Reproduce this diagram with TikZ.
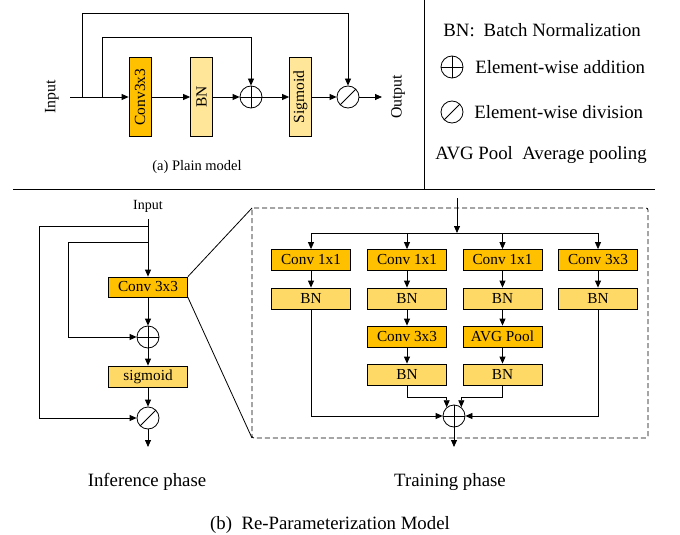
\documentclass[tikz,border=0pt]{standalone}
\usepackage{fontspec}
\setmainfont{Liberation Serif}
\usetikzlibrary{arrows.meta,calc}
\definecolor{dark}{HTML}{FFC000}
\definecolor{lite}{HTML}{FFD966}
\definecolor{pale}{HTML}{FFE699}
\begin{document}
\begin{tikzpicture}[x=1pt,y=-1pt,line width=0.8pt,
 arr/.style={-{Triangle[length=7pt,width=6pt]}},
 blk/.style={draw, inner sep=0pt, minimum width=79pt, minimum height=21pt, font=\fontsize{15.3}{16}\selectfont},
 vblk/.style={draw, inner sep=0pt, rotate=90, minimum width=79pt, minimum height=22pt, font=\fontsize{15.5}{16}\selectfont},
 opc/.style={draw, circle, inner sep=0pt, minimum size=22pt},
 addop/.style={opc, path picture={\draw (path picture bounding box.north)--(path picture bounding box.south) (path picture bounding box.west)--(path picture bounding box.east);}},
 divop/.style={opc, path picture={\draw (path picture bounding box.south west)--(path picture bounding box.north east);}},
 big/.style={font=\fontsize{18.8}{22}\selectfont, inner sep=0pt},
 ]
\useasboundingbox (0,0) rectangle (680,535);
% ---------- (a) plain model ----------
\node[rotate=90, font=\fontsize{15.8}{16}\selectfont] (tin) at (52,97) {Input};
\coordinate (s0) at (70,97);
\coordinate (b1) at (82,97);
\coordinate (b2) at (102,97);
\node[vblk, fill=dark] (tconv) at (140,97) {Conv3x3};
\node[vblk, fill=pale] (tbn) at (201.5,97) {BN};
\node[addop] (tadd) at (251,97) {};
\node[vblk, fill=pale] (tsig) at (300.5,97) {Sigmoid};
\node[divop] (tdiv) at (348,97) {};
\coordinate (tend) at (382,97);
\node[rotate=90, font=\fontsize{15.8}{16}\selectfont] (tout) at (398,97) {Output};
\draw[arr] (s0) -- (tconv);
\draw[arr] (tconv) -- (tbn);
\draw[arr] (tbn) -- (tadd);
\draw[arr] (tadd) -- (tsig);
\draw[arr] (tsig) -- (tdiv);
\draw[arr] (tdiv) -- (tend);
\coordinate (c1) at (102,37);
\coordinate (c2) at (251,37);
\draw[arr] (b2) -- (c1) -- (c2) -- (tadd);
\coordinate (c3) at (82,13);
\coordinate (c4) at (348,13);
\draw[arr] (b1) -- (c3) -- (c4) -- (tdiv);
\node[font=\fontsize{14.5}{16}\selectfont] (capa) at (197,167) {(a) Plain model};
% ---------- legend ----------
\draw (424,0) -- (424,189);
\draw (13,189) -- (655,189);
\node[big, anchor=west] (l1) at (443,30) {BN:\hspace{9pt}Batch Normalization};
\node[addop] (ladd) at (452,67) {};
\node[big, anchor=west] (l2) at (475,67) {Element-wise addition};
\node[divop] (ldiv) at (452,112) {};
\node[big, anchor=west] (l3) at (474,112) {Element-wise division};
\node[big, anchor=west] (l4) at (435,155) {AVG Pool\ \ Average pooling};
% ---------- (b) inference ----------
\node[font=\fontsize{14}{16}\selectfont, inner sep=1pt] (bin) at (148,206) {Input};
\node[blk, fill=dark, minimum height=20pt] (bconv) at (148,287) {Conv 3x3};
\node[addop] (badd) at (148,337) {};
\node[blk, fill=lite] (bsig) at (148,376.5) {sigmoid};
\node[divop] (bdiv) at (148,418) {};
\coordinate (bend) at (148,447);
\coordinate (j0) at (148,219);
\coordinate (j1) at (148,226);
\coordinate (j2) at (148,242);
\coordinate (k1) at (39,226);
\coordinate (k2) at (68,242);
\draw[arr] (j0) -- (bconv);
\draw[arr] (j1) -- (k1) |- (bdiv);
\draw[arr] (j2) -- (k2) |- (badd);
\draw[arr] (bconv) -- (badd);
\draw[arr] (badd) -- (bsig);
\draw[arr] (bsig) -- (bdiv);
\draw[arr] (bdiv) -- (bend);
\node[big] (inf) at (147,482) {Inference phase};
% ---------- (b) training ----------
\coordinate (dtl) at (252,208);
\coordinate (dbr) at (648,438);
\coordinate (dbl) at (252,438);
\draw[dashed, dash pattern=on 5pt off 3pt, rounded corners=2pt] (dtl) rectangle (dbr);
\draw (bconv.north east) -- (dtl);
\draw (bconv.south east) -- (dbl);
\coordinate (tin2) at (457,198);
\coordinate (bus) at (457,233);
\draw[arr] (tin2) -- (bus);
\coordinate (u1) at (311,233);
\coordinate (u2) at (407,233);
\coordinate (u3) at (502.5,233);
\coordinate (u4) at (598,233);
\draw (u1) -- (u4);
\node[blk, fill=dark] (r1c1) at (311,260) {Conv 1x1};
\node[blk, fill=dark] (r1c2) at (407,260) {Conv 1x1};
\node[blk, fill=dark] (r1c3) at (502.5,260) {Conv 1x1};
\node[blk, fill=dark] (r1c4) at (598,260) {Conv 3x3};
\node[blk, fill=lite] (r2c1) at (311,298.5) {BN};
\node[blk, fill=lite] (r2c2) at (407,298.5) {BN};
\node[blk, fill=lite] (r2c3) at (502.5,298.5) {BN};
\node[blk, fill=lite] (r2c4) at (598,298.5) {BN};
\node[blk, fill=dark] (r3c2) at (407,336.5) {Conv 3x3};
\node[blk, fill=dark] (r3c3) at (502.5,336.5) {AVG Pool};
\node[blk, fill=lite] (r4c2) at (407,374.5) {BN};
\node[blk, fill=lite] (r4c3) at (502.5,374.5) {BN};
\node[addop] (sum) at (454,416) {};
\coordinate (send) at (454,447);
\draw[arr] (u1) -- (r1c1);
\draw[arr] (u2) -- (r1c2);
\draw[arr] (u3) -- (r1c3);
\draw[arr] (u4) -- (r1c4);
\draw[arr] (r1c1) -- (r2c1);
\draw[arr] (r1c2) -- (r2c2);
\draw[arr] (r1c3) -- (r2c3);
\draw[arr] (r1c4) -- (r2c4);
\draw[arr] (r2c2) -- (r3c2);
\draw[arr] (r2c3) -- (r3c3);
\draw[arr] (r3c2) -- (r4c2);
\draw[arr] (r3c3) -- (r4c3);
\draw[arr] (r2c1) |- (sum);
\draw[arr] (r2c4) |- (sum);
\draw[arr] (r4c2.south) -- ++(0,12) -| (sum.130);
\draw[arr] (r4c3.south) -- ++(0,12) -| (sum.50);
\draw[arr] (sum) -- (send);
\node[big] (trn) at (450,482) {Training phase};
\node[big] (capb) at (330,525) {(b)\ \ Re-Parameterization Model};
\end{tikzpicture}
\end{document}
